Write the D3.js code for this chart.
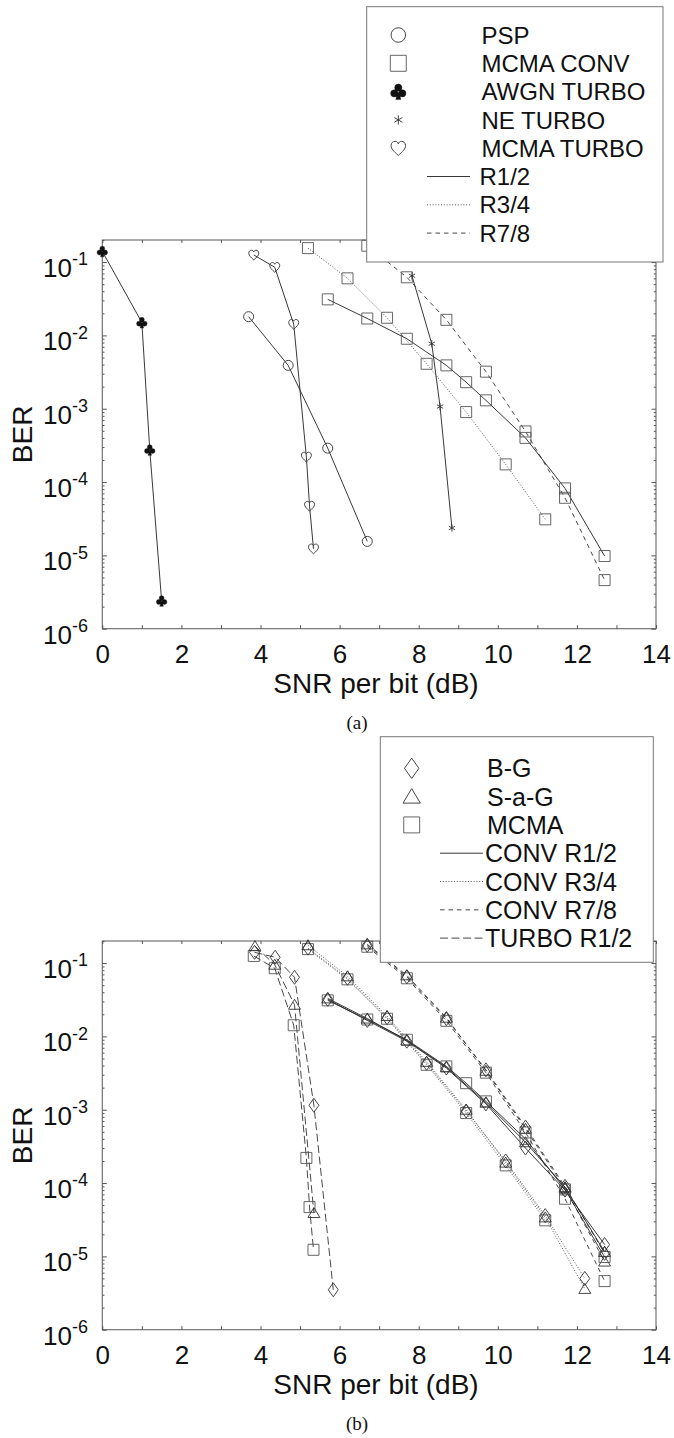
<!DOCTYPE html>
<html>
<head>
<meta charset="utf-8">
<script src="https://cdn.jsdelivr.net/npm/d3@7"></script>
<style>
  html, body { margin: 0; padding: 0; background: #fff; }
  svg { display: block; }
  text { font-family: "Liberation Sans", Arial, Helvetica, sans-serif; fill: #111; }
  text.caption { font-family: "Liberation Serif", "Times New Roman", serif; }
</style>
</head>
<body>
<svg id="fig" width="674" height="1438"></svg>
<script>
// ---------------- data: SNR per bit (dB) / BER ----------------
// panel (a)
const pspSnr = [3.7, 4.7, 5.7, 6.7];
const pspBer = [1.8e-2, 3.9e-3, 2.9e-4, 1.55e-5];

const awgnTurboSnr = [0.0, 1.0, 1.2, 1.5];
const awgnTurboBer = [0.14, 1.5e-2, 2.75e-4, 2.4e-6];

const neTurboSnr = [7.83, 8.33, 8.54, 8.84];
const neTurboBer = [6.5e-2, 7.7e-3, 1.07e-3, 2.36e-5];

const mcmaTurboSnr = [3.83, 4.36, 4.84, 5.16, 5.24, 5.34];
const mcmaTurboBer = [0.125, 8.5e-2, 1.42e-2, 2.2e-4, 4.7e-5, 1.23e-5];

const snrR12 = [5.7, 6.7, 7.7, 8.7, 9.2, 9.7, 10.7, 11.7, 12.7];
const mcmaConvR12 = [3.1e-2, 1.7e-2, 9.0e-3, 3.9e-3, 2.3e-3, 1.3e-3, 4.0e-4, 8.2e-5, 9.8e-6];

const snrR34 = [5.2, 6.2, 7.2, 8.2, 9.2, 10.2, 11.2];
const mcmaConvR34 = [0.155, 6.0e-2, 1.74e-2, 4.1e-3, 9.0e-4, 1.74e-4, 3.1e-5];

const snrR78 = [6.7, 7.7, 8.7, 9.7, 10.7, 11.7, 12.7];
const mcmaConvR78 = [0.167, 6.2e-2, 1.63e-2, 3.2e-3, 4.9e-4, 6.1e-5, 4.6e-6];

// panel (b)
const bgTurboSnr = [3.85, 4.37, 4.86, 5.35, 5.84];
const bgTurboBer = [0.14, 0.12, 6.4e-2, 1.15e-3, 3.5e-6];
const sagTurboSnr = [3.86, 4.36, 4.86, 5.35];
const sagTurboBer = [0.17, 9.5e-2, 2.7e-2, 3.9e-5];

const snrR12b = [5.7, 6.7, 7.7, 8.7, 9.7, 10.7, 11.7, 12.7];
const bgConvR12 = [3.2e-2, 1.65e-2, 8.6e-3, 3.7e-3, 1.2e-3, 3.0e-4, 8.0e-5, 1.45e-5];
const sagConvR12 = [3.3e-2, 1.75e-2, 8.8e-3, 3.8e-3, 1.25e-3, 3.6e-4, 8.8e-5, 1.15e-5];

const snrR34b = [5.2, 6.2, 7.2, 8.2, 9.2, 10.2, 11.2, 12.2];
const bgConvR34 = [0.16, 6.2e-2, 1.8e-2, 4.3e-3, 9.6e-4, 2.0e-4, 3.6e-5, 5.0e-6];
const sagConvR34 = [0.175, 6.6e-2, 1.9e-2, 4.5e-3, 1.0e-3, 1.9e-4, 3.4e-5, 3.6e-6];

const bgConvR78 = [0.175, 6.5e-2, 1.75e-2, 3.5e-3, 5.8e-4, 9.0e-5, 1.1e-5];
const sagConvR78 = [0.18, 6.8e-2, 1.8e-2, 3.4e-3, 5.5e-4, 8.5e-5, 8.5e-6];

// axis ticks and labels
const xTicks = d3.range(0, 15, 1);
const xLabelStep = 2;
const yDecades = [-6, -5, -4, -3, -2, -1];
const yDomain = [1e-6, 0.2];

const legendSymbolsA = ["PSP", "MCMA CONV", "AWGN TURBO", "NE TURBO", "MCMA TURBO"];
const legendLinesA = ["R1/2", "R3/4", "R7/8"];
const legendSymbolsB = ["B-G", "S-a-G", "MCMA"];
const legendLinesB = ["CONV R1/2", "CONV R3/4", "CONV R7/8", "TURBO R1/2"];

// ---------------- styles ----------------
const lineStyle = {
  r12:   { dash: null,    color: "#222", width: 0.9 },
  r34:   { dash: "1,1.8", color: "#555", width: 1.0 },
  r78:   { dash: "4.5,4", color: "#333", width: 0.9 },
  turbo: { dash: "8,3.5", color: "#333", width: 0.9 }
};

function circlePath(cx, cy, r) {
  return `M${cx + r},${cy}A${r},${r} 0 1,0 ${cx - r},${cy}A${r},${r} 0 1,0 ${cx + r},${cy}Z`;
}

// marker outlines, centred on (0,0); s scales the size
function markerPath(type, s) {
  switch (type) {
    case "circle": return circlePath(0, 0, 5 * s);
    case "square": { const h = 5.5 * s; return `M${-h},${-h}H${h}V${h}H${-h}Z`; }
    case "diamond": { const w = 5 * s, h = 7 * s; return `M0,${-h}L${w},0L0,${h}L${-w},0Z`; }
    case "triangle": return `M0,${-5.5 * s}L${6 * s},${4.5 * s}L${-6 * s},${4.5 * s}Z`;
    case "star": {
      const r = 3.6 * s, a = r * 0.866, b = r * 0.5;
      return `M0,${-r}V${r}M${-a},${-b}L${a},${b}M${-a},${b}L${a},${-b}`;
    }
    case "heart": {
      const k = 5 * s, p = (x, y) => `${x * k},${y * k}`;
      return `M${p(0, 1)}C${p(-0.6, 0.45)} ${p(-1, 0.1)} ${p(-1, -0.35)}` +
             `C${p(-1, -0.75)} ${p(-0.7, -0.95)} ${p(-0.45, -0.95)}` +
             `C${p(-0.2, -0.95)} ${p(-0.05, -0.8)} ${p(0, -0.6)}` +
             `C${p(0.05, -0.8)} ${p(0.2, -0.95)} ${p(0.45, -0.95)}` +
             `C${p(0.7, -0.95)} ${p(1, -0.75)} ${p(1, -0.35)}` +
             `C${p(1, 0.1)} ${p(0.6, 0.45)} ${p(0, 1)}Z`;
    }
    case "club": {
      const k = 5.4 * s, r = 0.46 * k;
      return circlePath(0, -0.5 * k, r) + circlePath(-0.52 * k, 0.22 * k, r) +
             circlePath(0.52 * k, 0.22 * k, r) +
             `M${-0.12 * k},${0.1 * k}L${-0.32 * k},${1.02 * k}L${0.32 * k},${1.02 * k}L${0.12 * k},${0.1 * k}Z`;
    }
  }
}

function styleMarker(sel, type) {
  if (type === "club") sel.attr("fill", "#111").attr("stroke", "#111").attr("stroke-width", 0.4);
  else sel.attr("fill", "none").attr("stroke", type === "square" ? "#555" : "#333").attr("stroke-width", 0.9);
}

function zip(xs, ys) { return xs.map((v, i) => [v, ys[i]]); }

// ---------------- series tables ----------------
const seriesA = [
  { pts: zip(snrR34, mcmaConvR34), marker: "square", line: "r34" },
  { pts: zip(snrR78, mcmaConvR78), marker: "square", line: "r78" },
  { pts: zip(snrR12, mcmaConvR12), marker: "square", line: "r12" },
  { pts: zip(pspSnr, pspBer), marker: "circle", line: "r12" },
  { pts: zip(awgnTurboSnr, awgnTurboBer), marker: "club", line: "r12" },
  { pts: zip(neTurboSnr, neTurboBer), marker: "star", line: "r12" },
  { pts: zip(mcmaTurboSnr, mcmaTurboBer), marker: "heart", line: "r12" }
];

const seriesB = [
  { pts: zip(snrR34, mcmaConvR34), marker: "square", line: "r34" },
  { pts: zip(snrR34b, bgConvR34), marker: "diamond", line: "r34" },
  { pts: zip(snrR34b, sagConvR34), marker: "triangle", line: "r34" },
  { pts: zip(snrR78, mcmaConvR78), marker: "square", line: "r78" },
  { pts: zip(snrR78, bgConvR78), marker: "diamond", line: "r78" },
  { pts: zip(snrR78, sagConvR78), marker: "triangle", line: "r78" },
  { pts: zip(snrR12, mcmaConvR12), marker: "square", line: "r12" },
  { pts: zip(snrR12b, bgConvR12), marker: "diamond", line: "r12" },
  { pts: zip(snrR12b, sagConvR12), marker: "triangle", line: "r12" },
  { pts: zip(mcmaTurboSnr, mcmaTurboBer), marker: "square", line: "turbo" },
  { pts: zip(bgTurboSnr, bgTurboBer), marker: "diamond", line: "turbo" },
  { pts: zip(sagTurboSnr, sagTurboBer), marker: "triangle", line: "turbo" }
];

// ---------------- layout ----------------
const svg = d3.select("#fig");
const plotLeft = 102.3, plotRight = 656;
const panels = [
  { top: 240, bottom: 628.7, caption: "(a)", series: seriesA,
    legend: { x: 366.7, y: 6.7, w: 296.3, h: 255.3, symX: 398.3, lineX0: 427, lineX1: 470,
              textX: 481.5, row0: 35, step: 28.3, symbols: legendSymbolsA,
              symbolTypes: ["circle", "square", "club", "star", "heart"],
              lines: legendLinesA, lineKeys: ["r12", "r34", "r78"], fontSize: 24 } },
  { top: 941, bottom: 1329.7, caption: "(b)", series: seriesB,
    legend: { x: 380.3, y: 736.7, w: 273, h: 225.6, symX: 411.7, lineX0: 440, lineX1: 483,
              textX: 487, row0: 768.3, step: 28.3, symbols: legendSymbolsB,
              symbolTypes: ["diamond", "triangle", "square"],
              lines: legendLinesB, lineKeys: ["r12", "r34", "r78", "turbo"], fontSize: 25 } }
];

panels.forEach(p => {
  const g = svg.append("g");
  const x = d3.scaleLinear().domain([0, 14]).range([plotLeft, plotRight]);
  const y = d3.scaleLog().domain(yDomain).range([p.bottom, p.top]);

  const majors = yDecades.map(k => Math.pow(10, k));
  const minors = [];
  yDecades.forEach(k => d3.range(2, 10).forEach(m => {
    const v = m * Math.pow(10, k);
    if (v <= yDomain[1]) minors.push(v);
  }));

  const tickStyle = sel => {
    sel.select(".domain").remove();
    sel.selectAll(".tick line").attr("stroke", "#555").attr("stroke-width", 1);
  };

  // frame
  g.append("rect")
    .attr("x", plotLeft).attr("y", p.top)
    .attr("width", plotRight - plotLeft).attr("height", p.bottom - p.top)
    .attr("fill", "none").attr("stroke", "#666").attr("stroke-width", 1.1);

  // bottom axis with labels
  const xb = g.append("g").attr("transform", `translate(0,${p.bottom})`)
    .call(d3.axisBottom(x).tickValues(xTicks).tickSize(-3.5).tickSizeOuter(0).tickPadding(16)
      .tickFormat(d => d % xLabelStep === 0 ? d : ""));
  xb.call(tickStyle);
  xb.selectAll(".tick text").attr("font-size", 26).attr("fill", "#111");

  // top axis ticks
  g.append("g").attr("transform", `translate(0,${p.top})`)
    .call(d3.axisTop(x).tickValues(xTicks).tickSize(-3).tickSizeOuter(0).tickFormat(""))
    .call(tickStyle);

  // left / right ticks
  g.append("g").attr("transform", `translate(${plotLeft},0)`)
    .call(d3.axisLeft(y).tickValues(majors).tickSize(-4.5).tickSizeOuter(0).tickFormat(""))
    .call(tickStyle);
  g.append("g").attr("transform", `translate(${plotLeft},0)`)
    .call(d3.axisLeft(y).tickValues(minors).tickSize(-2.2).tickSizeOuter(0).tickFormat(""))
    .call(tickStyle);
  g.append("g").attr("transform", `translate(${plotRight},0)`)
    .call(d3.axisRight(y).tickValues(majors).tickSize(-4.5).tickSizeOuter(0).tickFormat(""))
    .call(tickStyle);
  g.append("g").attr("transform", `translate(${plotRight},0)`)
    .call(d3.axisRight(y).tickValues(minors).tickSize(-2.2).tickSizeOuter(0).tickFormat(""))
    .call(tickStyle);

  // y tick labels 10^k
  yDecades.forEach(k => {
    const t = g.append("text")
      .attr("x", 88).attr("y", y(Math.pow(10, k)) + 15)
      .attr("text-anchor", "end");
    t.append("tspan").attr("font-size", 26).text("10");
    t.append("tspan").attr("font-size", 18).attr("dy", -11.6).text(String(k));
  });

  // axis titles and panel caption
  g.append("text")
    .attr("transform", `translate(32,${(p.top + p.bottom) / 2}) rotate(-90)`)
    .attr("text-anchor", "middle").attr("font-size", 28).text("BER");
  g.append("text")
    .attr("x", 376).attr("y", p.bottom + 64.5)
    .attr("text-anchor", "middle").attr("font-size", 28).text("SNR per bit (dB)");
  g.append("text").attr("class", "caption")
    .attr("x", 357).attr("y", p.bottom + 100)
    .attr("text-anchor", "middle").attr("font-size", 19).text(p.caption);

  // curves
  const line = d3.line().x(d => x(d[0])).y(d => y(d[1]));
  const curves = g.append("g");
  p.series.forEach(s => {
    const st = lineStyle[s.line];
    curves.append("path").datum(s.pts).attr("d", line)
      .attr("fill", "none").attr("stroke", st.color).attr("stroke-width", st.width)
      .attr("stroke-dasharray", st.dash);
  });
  const marks = g.append("g");
  p.series.forEach(s => {
    marks.append("g").selectAll("path").data(s.pts).join("path")
      .attr("transform", d => `translate(${x(d[0])},${y(d[1])})`)
      .attr("d", markerPath(s.marker, 1))
      .call(sel => styleMarker(sel, s.marker));
  });

  // legend box drawn on top of the plot
  const L = p.legend;
  const lg = g.append("g");
  lg.append("rect").attr("x", L.x).attr("y", L.y).attr("width", L.w).attr("height", L.h)
    .attr("fill", "#fff").attr("stroke", "#777").attr("stroke-width", 1);
  L.symbols.forEach((name, i) => {
    const cy = L.row0 + i * L.step;
    const type = L.symbolTypes[i];
    lg.append("path").attr("transform", `translate(${L.symX},${cy})`)
      .attr("d", markerPath(type, type === "star" ? 1.3 : 1.45))
      .call(sel => styleMarker(sel, type));
    lg.append("text").attr("x", L.textX).attr("y", cy).attr("dy", "0.36em")
      .attr("font-size", L.fontSize).text(name);
  });
  L.lines.forEach((name, j) => {
    const cy = L.row0 + (L.symbols.length + j) * L.step;
    const st = lineStyle[L.lineKeys[j]];
    lg.append("line").attr("x1", L.lineX0).attr("x2", L.lineX1).attr("y1", cy).attr("y2", cy)
      .attr("stroke", st.color).attr("stroke-width", st.width).attr("stroke-dasharray", st.dash);
    lg.append("text").attr("x", L.textX - 2).attr("y", cy).attr("dy", "0.36em")
      .attr("font-size", L.fontSize).text(name);
  });
});
</script>
</body>
</html>
